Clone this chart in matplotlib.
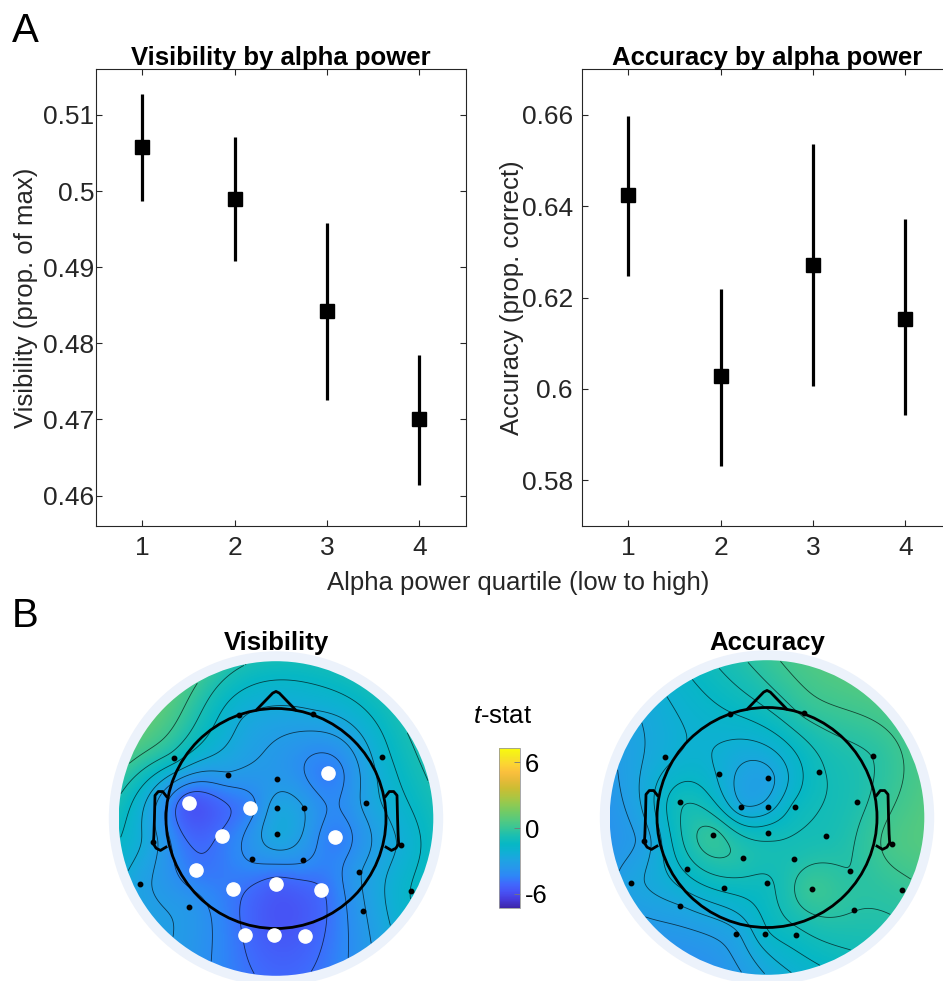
import numpy as np
import matplotlib
matplotlib.use("Agg")
import matplotlib.pyplot as plt
from matplotlib.colors import LinearSegmentedColormap
from matplotlib.patches import Circle
from matplotlib.ticker import FormatStrFormatter

plt.rcParams['font.family'] = ['Liberation Sans', 'DejaVu Sans']
plt.rcParams['axes.unicode_minus'] = False
plt.rcParams['mathtext.fontset'] = 'custom'
plt.rcParams['mathtext.it'] = 'Liberation Sans:italic'
plt.rcParams['mathtext.rm'] = 'Liberation Sans'

# ---------------- data ----------------
quartiles = [1, 2, 3, 4]
quartile_labels = ['1', '2', '3', '4']

vis_mean = [0.5058, 0.4990, 0.4842, 0.4700]
vis_lo = [0.4987, 0.4908, 0.4725, 0.4614]
vis_hi = [0.5128, 0.5071, 0.4958, 0.4785]

acc_mean = [0.6424, 0.6028, 0.6271, 0.6154]
acc_lo = [0.6248, 0.5832, 0.6006, 0.5942]
acc_hi = [0.6598, 0.6220, 0.6537, 0.6373]

electrodes = ['Fp1', 'Fp2', 'F7', 'F8', 'F3', 'Fz', 'F4', 'FC5', 'FC1', 'FCz', 'FC2',
              'FC6', 'T7', 'C3', 'Cz', 'C4', 'T8', 'CP1', 'CP2', 'CP5', 'CP6', 'TP9',
              'Pz', 'P3', 'P4', 'TP10', 'P7', 'P8', 'O1', 'Oz', 'O2']
elec_x = [-0.34, 0.34, -0.93, 0.96, -0.44, 0.01, 0.475, -0.79, -0.233, 0.006, 0.255,
          0.822, -1.115, -0.495, 0.006, 0.536, 1.14, -0.218, 0.246, -0.728, 0.75, -1.236,
          0.003, -0.392, 0.41, 1.227, -0.795, 0.79, -0.285, -0.015, 0.262]
elec_y = [0.94, 0.95, 0.55, 0.56, 0.40, 0.355, 0.41, 0.14, 0.10, 0.094, 0.10,
          0.138, -0.21, -0.16, -0.144, -0.172, -0.24, -0.37, -0.38, -0.468, -0.485, -0.597,
          -0.595, -0.641, -0.651, -0.659, -0.80, -0.838, -1.058, -1.063, -1.066]

vis_t = [-2.3, -2.6, -1.2, -2.0, -3.4, -3.5, -4.6, -5.6, -4.4, -2.9, -3.3,
         -3.0, -3.0, -4.8, -2.7, -4.6, -2.3, -4.0, -4.0, -4.7, -3.4, -3.0,
         -5.3, -4.7, -5.0, -1.6, -3.6, -3.4, -5.0, -5.6, -5.4]
vis_sig = ['F4', 'FC5', 'FC1', 'C3', 'C4', 'CP5', 'Pz', 'P3', 'P4', 'O1', 'Oz', 'O2']

acc_t = [-1.6, -0.3, -2.3, -0.4, -2.2, -2.9, -1.1, -1.1, -2.6, -2.4, -1.4,
         -0.6, -3.0, -0.2, -1.2, -0.8, 0.4, -0.6, -0.7, -1.4, -0.4, -2.9,
         -1.1, -1.4, 0.0, -0.1, -2.7, -0.4, -2.8, -1.7, -1.2]

t_range = [-7.3, 7.3]
cbar_ticks = [-6, 0, 6]

# ---------------- colormap (parula-like) ----------------
parula_anchors = [
    (0.2422, 0.1504, 0.6603), (0.2740, 0.2280, 0.8500), (0.2810, 0.3228, 0.9579),
    (0.2500, 0.4100, 0.9900), (0.1786, 0.5289, 0.9682), (0.1540, 0.5902, 0.9218),
    (0.1183, 0.6410, 0.8860), (0.0592, 0.6900, 0.8300), (0.0265, 0.7200, 0.7700),
    (0.1000, 0.7450, 0.7000), (0.2161, 0.7743, 0.5923), (0.3300, 0.7900, 0.5000),
    (0.4420, 0.7950, 0.4000), (0.5650, 0.7900, 0.3200), (0.6900, 0.7700, 0.2500),
    (0.8000, 0.7400, 0.2000), (0.9000, 0.7300, 0.2200), (0.9800, 0.7500, 0.2400),
    (0.9900, 0.8300, 0.2000), (0.9600, 0.9100, 0.1300), (0.9763, 0.9831, 0.0538)]
parula = LinearSegmentedColormap.from_list('parula', parula_anchors, N=256)

W, H = 943, 981
fig = plt.figure(figsize=(W / 100, H / 100), dpi=100)


def px_axes(l, t, r, b):
    return fig.add_axes([l / W, 1 - b / H, (r - l) / W, (b - t) / H])


FS = 18.5
AX_COL = '#262626'

# ---------------- panel A ----------------
ax1 = px_axes(96, 69.3, 465.7, 526)
ax2 = px_axes(582, 69.3, 951.7, 526)

specs = [
    (ax1, vis_mean, vis_lo, vis_hi, (0.456, 0.516), [0.46, 0.47, 0.48, 0.49, 0.50, 0.51],
     'Visibility (prop. of max)', 'Visibility by alpha power', 1.0),
    (ax2, acc_mean, acc_lo, acc_hi, (0.57, 0.67), [0.58, 0.60, 0.62, 0.64, 0.66],
     'Accuracy (prop. correct)', 'Accuracy by alpha power', 6.5),
]
for ax, m, lo, hi, ylim, yt, ylab, ttl, ypad in specs:
    m = np.array(m); lo = np.array(lo); hi = np.array(hi)
    ax.errorbar(quartiles, m, yerr=[m - lo, hi - m], fmt='s', color='k', ms=10,
                elinewidth=2.3, capsize=0, mfc='k', mec='k')
    ax.set_xlim(0.5, 4.5)
    ax.set_ylim(*ylim)
    ax.set_xticks(quartiles)
    ax.set_xticklabels(quartile_labels)
    ax.set_yticks(yt)
    ax.yaxis.set_major_formatter(FormatStrFormatter('%g'))
    ax.tick_params(direction='in', top=True, right=True, length=4.5, width=0.8,
                   colors=AX_COL, labelsize=19, labelcolor=AX_COL)
    ax.tick_params(axis='x', pad=7)
    ax.tick_params(axis='y', pad=ypad)
    for s in ax.spines.values():
        s.set_color(AX_COL)
        s.set_linewidth(0.8)
    ax.set_ylabel(ylab, fontsize=FS, color=AX_COL)
    ax.yaxis.set_label_coords(-0.157, 0.5)
    ax.set_title(ttl, fontsize=FS, fontweight='bold', pad=3)

fig.text(518 / W, 1 - 583 / H, 'Alpha power quartile (low to high)', fontsize=FS,
         color=AX_COL, ha='center', va='center')
fig.text(12 / W, 1 - 42 / H, 'A', fontsize=29, va='baseline', ha='left')
fig.text(12 / W, 1 - 627 / H, 'B', fontsize=29, va='baseline', ha='left')

# ---------------- panel B: topoplots ----------------
ex = np.array(elec_x); ey = np.array(elec_y)


def kern(d):
    with np.errstate(divide='ignore', invalid='ignore'):
        g = d ** 2 * np.log(d)
    g[d == 0] = 0
    return g


def thin_plate(vals, X, Y):
    n = len(ex)
    d = np.hypot(ex[:, None] - ex[None, :], ey[:, None] - ey[None, :])
    P = np.column_stack([np.ones(n), ex, ey])
    A = np.zeros((n + 3, n + 3))
    A[:n, :n] = kern(d)
    A[:n, n:] = P
    A[n:, :n] = P.T
    rhs = np.concatenate([np.array(vals, float), np.zeros(3)])
    sol = np.linalg.solve(A, rhs)
    w, a = sol[:n], sol[n:]
    dg = np.hypot(X[..., None] - ex, Y[..., None] - ey)
    return kern(dg) @ w + a[0] + a[1] * X + a[2] * Y


R_MAP = 1.43
R_HALO = 1.52
LIM = 1.6
ear_x = [0.995, 1.03, 1.07, 1.10, 1.105, 1.11, 1.115, 1.09, 1.05, 1.0]
ear_y = [0.20, 0.245, 0.245, 0.21, 0.0, -0.15, -0.23, -0.27, -0.29, -0.26]


def topo(cx, cy, vals, title, sig=()):
    r_px = 110
    half = LIM * r_px
    ax = px_axes(cx - half, cy - half, cx + half, cy + half)
    ax.set_xlim(-LIM, LIM); ax.set_ylim(-LIM, LIM)
    ax.set_aspect('equal')
    ax.axis('off')
    ax.add_patch(Circle((0, 0), R_HALO, fc='#ecf2fb', ec='none', zorder=0))
    g = np.linspace(-R_MAP, R_MAP, 301)
    X, Y = np.meshgrid(g, g)
    Z = thin_plate(vals, X, Y)
    clip = Circle((0, 0), R_MAP, fc='none', ec='none', transform=ax.transData)
    ax.add_patch(clip)
    im = ax.imshow(Z, extent=[-R_MAP, R_MAP, -R_MAP, R_MAP], origin='lower', cmap=parula,
                   vmin=t_range[0], vmax=t_range[1], interpolation='bilinear', zorder=1)
    im.set_clip_path(clip)
    inside = np.hypot(X, Y) <= R_MAP
    zmin, zmax = Z[inside].min(), Z[inside].max()
    levels = np.linspace(zmin, zmax, 9)[1:-1]
    cs = ax.contour(X, Y, np.where(inside, Z, np.nan), levels=levels, colors='k',
                    linewidths=0.6, alpha=0.65, linestyles='solid', zorder=2)
    cs.set_clip_path(clip)
    # head
    ax.add_patch(Circle((0, 0), 1.0, fc='none', ec='k', lw=2.0, zorder=3))
    ax.plot([-0.18, -0.03, 0.0, 0.03, 0.18], [0.985, 1.14, 1.155, 1.14, 0.985], color='k',
            lw=2.0, zorder=3, solid_capstyle='round')
    ax.plot(ear_x, ear_y, color='k', lw=2.0, zorder=3)
    ax.plot([-v for v in ear_x], ear_y, color='k', lw=2.0, zorder=3)
    sig_mask = np.array([e in sig for e in electrodes])
    ax.plot(ex[~sig_mask], ey[~sig_mask], 'o', color='k', ms=3.2, zorder=4)
    if sig_mask.any():
        ax.plot(ex[sig_mask], ey[sig_mask], 'o', color='white', ms=9.5, mec='white', zorder=4)
    ax.text(0, (cy - 650) / r_px, title, fontsize=FS, fontweight='bold', ha='center',
            va='baseline', transform=ax.transData, clip_on=False)
    return im


im = topo(276, 818.5, vis_t, 'Visibility', vis_sig)
topo(767, 817.5, acc_t, 'Accuracy')

cax = px_axes(499, 748, 520, 908)
cb = fig.colorbar(im, cax=cax, ticks=cbar_ticks)
cb.ax.yaxis.set_major_formatter(FormatStrFormatter('%g'))
cb.ax.tick_params(direction='in', length=4, width=0.6, labelsize=FS, colors='#777777',
                  labelcolor='k', pad=3.5)
cb.outline.set_linewidth(0.6)
cb.outline.set_edgecolor('#999999')
fig.text(503 / W, 1 - 716 / H, r'$\mathit{t}$-stat', fontsize=FS, ha='center', va='center')

fig.savefig('out.png', dpi=100)
